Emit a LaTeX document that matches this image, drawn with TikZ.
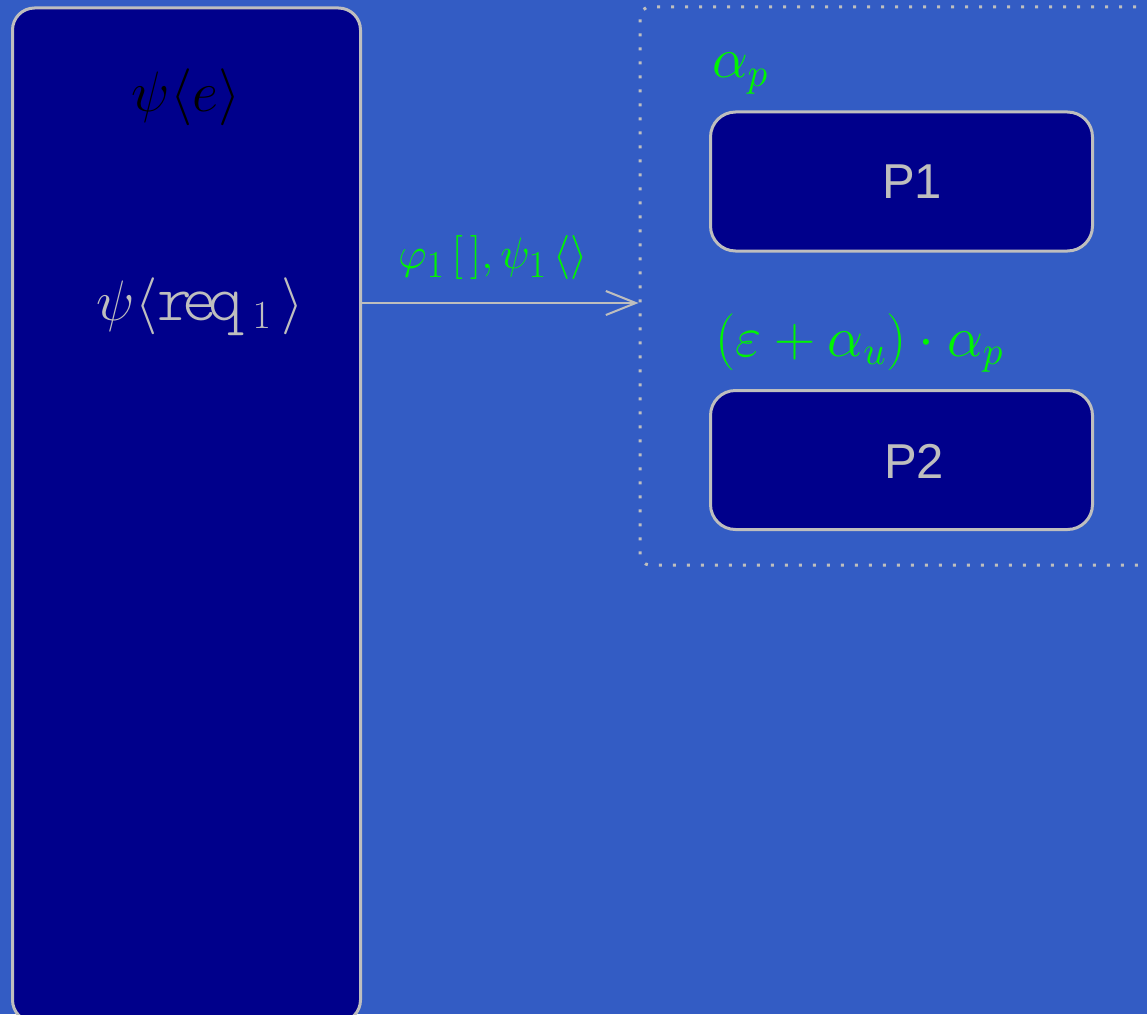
\RequirePackage{fix-cm}
\documentclass[tikz,border=0pt]{standalone}
\usepackage{fontspec}
\newfontfamily\sansf{Liberation Sans}
\newfontfamily\monof{lmmonolt10-regular.otf}
\usetikzlibrary{arrows.meta}
\DeclareMathSizes{44}{44}{38}{30}
\definecolor{bg}{RGB}{51,92,196}
\definecolor{boxfill}{RGB}{0,0,139}
\definecolor{edgegray}{RGB}{190,190,190}
\definecolor{lblgreen}{RGB}{0,245,0}
\newcommand\reqtext{\hbox{\monof\fontsize{66}{72}\selectfont r\kern-9pt e\kern-9pt q}}
\begin{document}
\begin{tikzpicture}[x=1pt,y=-1pt,
  block/.style={draw=edgegray,line width=3pt,fill=boxfill,inner sep=0pt},
  group/.style={draw=edgegray,line width=3pt,dash pattern=on 3pt off 11pt,rounded corners=10pt,inner sep=0pt},
  bigmath/.style={inner sep=0pt,font=\fontsize{57}{66}\selectfont},
  sanslbl/.style={inner sep=0pt,text=edgegray,font=\sansf\fontsize{49}{58}\selectfont},
  greenlbl/.style={inner sep=0pt,text=lblgreen,font=\fontsize{57}{66}\selectfont},
  edgelbl/.style={inner sep=0pt,text=lblgreen,font=\fontsize{44}{52}\selectfont},
  conn/.style={draw=edgegray,line width=2pt,-{Straight Barb[length=30pt,width=24pt,line width=2pt]}}
]
\useasboundingbox (0,0) rectangle (1147,1014);
\clip (0,0) rectangle (1147,1014);
\fill[bg] (0,0) rectangle (1147,1014);

% left component
\node[block,rounded corners=22pt,minimum width=348pt,minimum height=1014pt] (L) at (186.5,515) {};
\node[bigmath,anchor=base,text=black] (Le) at (186,112) {$\psi\langle e\rangle$};
\node[bigmath,anchor=base,text=edgegray] (Lr) at (200,320) {$\psi\langle\reqtext\,{}_1\,\rangle$};

% group
\node[group,minimum width=520pt,minimum height=558pt] (G) at (900,286) {};

% P1, P2
\node[block,rounded corners=25pt,minimum width=382pt,minimum height=139pt] (P1) at (901.5,181.5) {};
\node[sanslbl] (P1t) at (912,182) {P1};
\node[block,rounded corners=25pt,minimum width=382pt,minimum height=139pt] (P2) at (901.5,460) {};
\node[sanslbl] (P2t) at (914,461) {P2};

\node[greenlbl,anchor=base west] (ap) at (712,78) {$\alpha_p$};
\node[greenlbl,anchor=base west] (eap) at (715,356) {$(\varepsilon+\alpha_u)\cdot\alpha_p$};

% connector
\coordinate (ay) at (0,303);
\draw[conn] (L.east |- ay) -- (G.west |- ay)
  node[edgelbl,midway,anchor=base,yshift=35pt,xshift=-7pt] (el) {$\varphi_1\,[\,],\psi_1\,\langle\rangle$};
\end{tikzpicture}
\end{document}
